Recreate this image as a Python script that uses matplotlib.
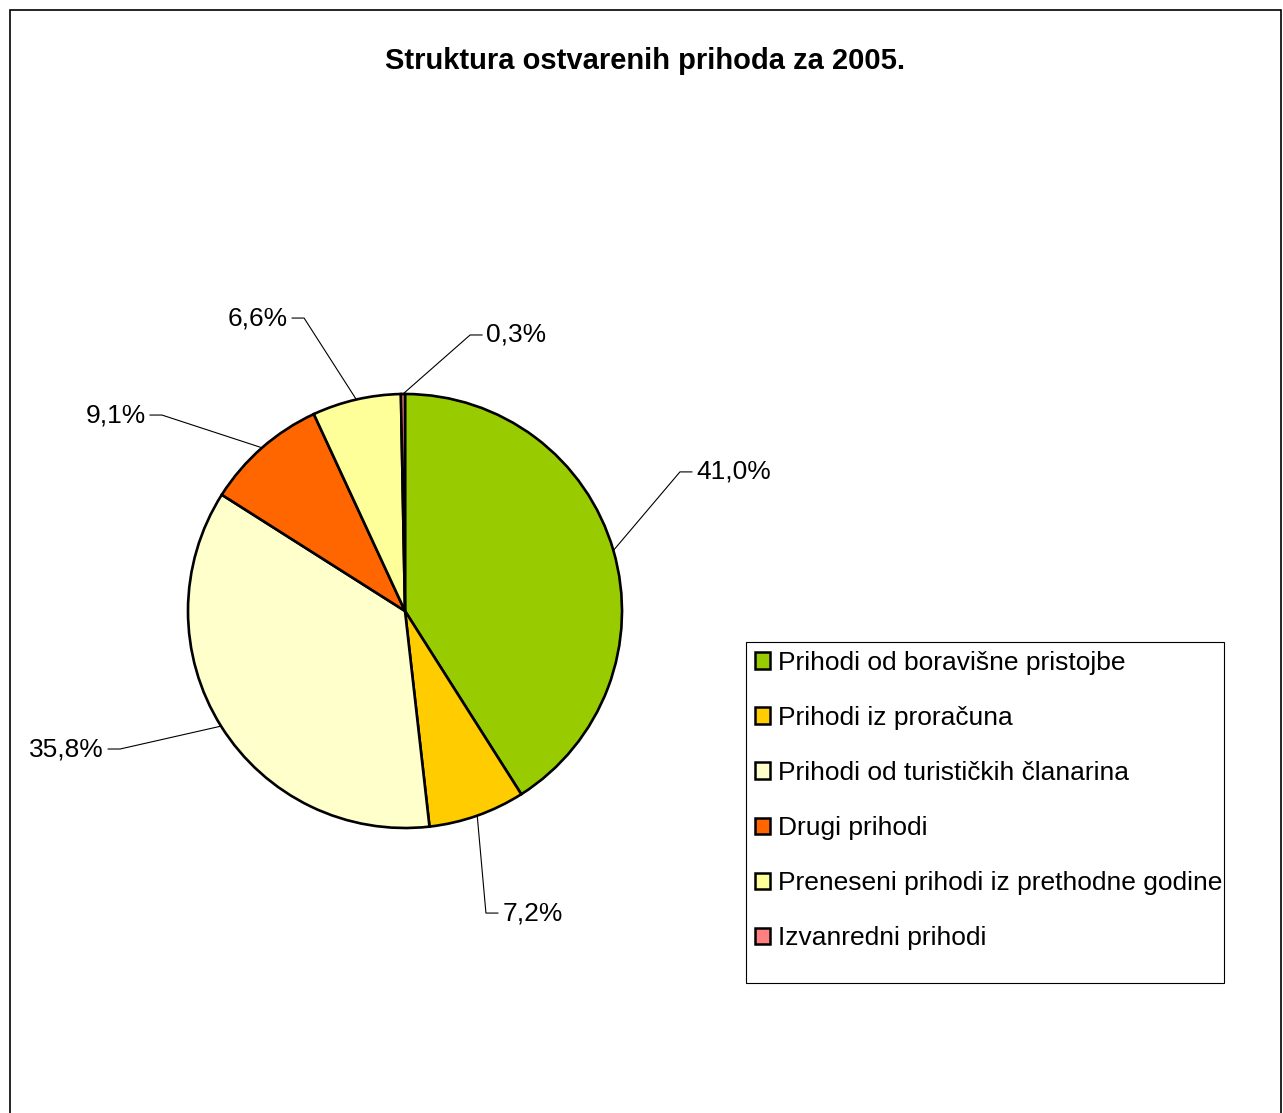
import matplotlib
matplotlib.use("Agg")
import matplotlib.pyplot as plt
from matplotlib.patches import Rectangle
from matplotlib.lines import Line2D
import numpy as np

plt.rcParams['font.family'] = ['Liberation Sans', 'DejaVu Sans']

title = "Struktura ostvarenih prihoda za 2005."
categories = ["Prihodi od boravišne pristojbe", "Prihodi iz proračuna",
              "Prihodi od turističkih članarina", "Drugi prihodi",
              "Preneseni prihodi iz prethodne godine", "Izvanredni prihodi"]
values = [41.0, 7.2, 35.8, 9.1, 6.6, 0.3]
colors = ["#99CC00", "#FFCC00", "#FFFFCC", "#FF6600", "#FFFF99", "#FF8080"]

# label elbow positions (layout, in pie-radius units)
label_elbows = [(1.267, 0.641), (0.373, -1.392), (-1.313, -0.636),
                (-1.12, 0.903), (-0.465, 1.350), (0.300, 1.272)]

W, H = 1283, 1113
fig = plt.figure(figsize=(W / 100, H / 100), dpi=100)
fig.patch.set_facecolor('white')

# outer border (no bottom edge visible)
fig.add_artist(Rectangle((10 / W, -0.05), (1281 - 10) / W, 1.05 - 10 / H,
                         transform=fig.transFigure, fill=False,
                         edgecolor='black', linewidth=1.2))

fig.text(645 / W, 1 - 61 / H, title, ha='center', va='center',
         fontsize=21, fontweight='bold')

cx, cy, r = 405, 611, 217
ax = fig.add_axes([(cx - r) / W, (H - cy - r) / H, 2 * r / W, 2 * r / H])
wedges, _ = ax.pie(values, colors=colors, startangle=90, counterclock=False,
                   radius=1, wedgeprops=dict(edgecolor='black', linewidth=1.9))
ax.set_xlim(-1, 1)
ax.set_ylim(-1, 1)
ax.set_aspect('equal')
ax.axis('off')

for w, v, (ex, ey) in zip(wedges, values, label_elbows):
    ang = np.deg2rad((w.theta1 + w.theta2) / 2)
    sx, sy = np.cos(ang), np.sin(ang)
    side = 1 if ex > 0 else -1
    hx = ex + side * 0.055
    ax.add_line(Line2D([sx, ex, hx], [sy, ey, ey], color='black',
                       linewidth=0.8, clip_on=False))
    lbl = f"{v:.1f}".replace('.', ',') + "%"
    ax.text(hx + side * 0.02, ey, lbl, ha='left' if side > 0 else 'right',
            va='center', fontsize=19, clip_on=False)

# legend
fig.add_artist(Rectangle((746 / W, 1 - 983 / H), (1224 - 746) / W, (983 - 642) / H,
                         transform=fig.transFigure, fill=False,
                         edgecolor='black', linewidth=0.8))
handles = [Rectangle((0, 0), 1, 1, facecolor=c, edgecolor='black', linewidth=1.8)
           for c in colors]
leg = fig.legend(handles, categories, loc='upper left',
                 bbox_to_anchor=(746 / W, 1 - 642 / H), frameon=False,
                 fontsize=19, handlelength=0.58, handleheight=0.58,
                 handletextpad=0.3, labelspacing=1.18, borderpad=0.33,
                 borderaxespad=0.0)

fig.savefig("out.png", dpi=100, facecolor='white')
